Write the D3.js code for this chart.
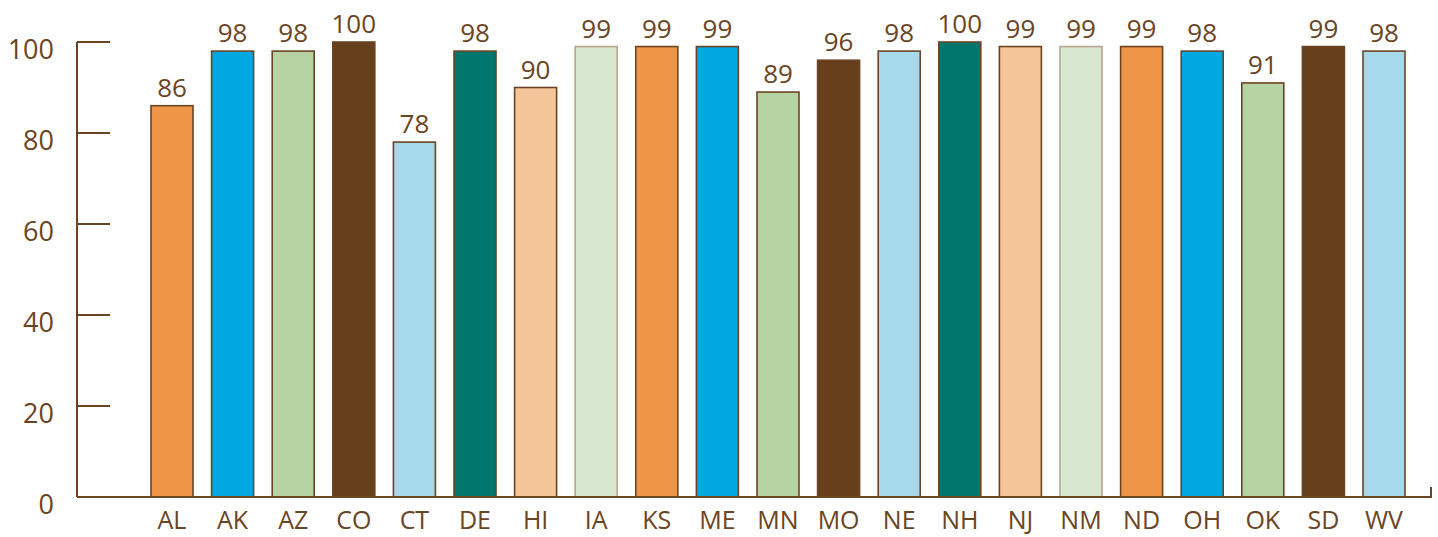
<!DOCTYPE html>
<html>
<head>
<meta charset="utf-8">
<script src="https://cdn.jsdelivr.net/npm/d3@7"></script>
<style>
  html, body { margin: 0; padding: 0; background: #fff; }
  svg { display: block; font-family: "Open Sans", "Noto Sans", sans-serif; }
</style>
</head>
<body>
<svg id="chart" width="1438" height="537"></svg>
<script>
  // Data
  const states = ['AL', 'AK', 'AZ', 'CO', 'CT', 'DE', 'HI', 'IA', 'KS', 'ME', 'MN',
                  'MO', 'NE', 'NH', 'NJ', 'NM', 'ND', 'OH', 'OK', 'SD', 'WV'];
  const values = [86, 98, 98, 100, 78, 98, 90, 99, 99, 99, 89,
                  96, 98, 100, 99, 99, 99, 98, 91, 99, 98];
  const yTicks = [0, 20, 40, 60, 80, 100];

  const palette = ['#ee9548', '#00a8e2', '#b6d3a4', '#683f1d',
                   '#a7d9ec', '#00766d', '#f5c59a', '#d8e7cf'];
  const brown = '#6b4423';

  const svg = d3.select('#chart');

  const x = d3.scaleBand()
    .domain(states)
    .range([141.7, 1414.3])
    .paddingInner(0.307)
    .paddingOuter(0.1535);

  const y = d3.scaleLinear().domain([0, 100]).range([497, 42]);

  const color = d3.scaleOrdinal().domain(d3.range(palette.length)).range(palette);

  const data = states.map((s, i) => ({ state: s, value: values[i], i }));

  // Bars
  svg.append('g').selectAll('rect')
    .data(data)
    .enter().append('rect')
    .attr('x', d => x(d.state))
    .attr('y', d => y(d.value))
    .attr('width', x.bandwidth())
    .attr('height', d => y(0) - y(d.value))
    .attr('fill', d => color(d.i % palette.length))
    .attr('stroke', d => (d.i % palette.length) === 7 ? '#b9a48f' : brown)
    .attr('stroke-width', 1.6);

  // Value labels
  svg.append('g').selectAll('text')
    .data(data)
    .enter().append('text')
    .attr('x', d => x(d.state) + x.bandwidth() / 2)
    .attr('y', d => y(d.value) - 9)
    .attr('text-anchor', 'middle')
    .attr('font-size', 26)
    .attr('fill', brown)
    .text(d => d.value);

  // Y axis
  const yAxis = svg.append('g').attr('transform', 'translate(77,0)');
  yAxis.append('line')
    .attr('y1', y(100)).attr('y2', y(0))
    .attr('stroke', brown).attr('stroke-width', 2);
  yAxis.selectAll('line.tick')
    .data(yTicks)
    .enter().append('line')
    .attr('class', 'tick')
    .attr('x1', 0).attr('x2', 33)
    .attr('y1', d => y(d)).attr('y2', d => y(d))
    .attr('stroke', brown).attr('stroke-width', 2);
  yAxis.selectAll('text')
    .data(yTicks)
    .enter().append('text')
    .attr('x', -23)
    .attr('y', d => y(d) + 16.5)
    .attr('text-anchor', 'end')
    .attr('font-size', 27)
    .attr('fill', brown)
    .text(d => d);

  // X axis
  const xAxis = svg.append('g');
  xAxis.append('path')
    .attr('d', `M77,${y(0)}H1431V${y(0) - 10}`)
    .attr('fill', 'none')
    .attr('stroke', brown).attr('stroke-width', 2);
  xAxis.selectAll('text')
    .data(states)
    .enter().append('text')
    .attr('x', d => x(d) + x.bandwidth() / 2)
    .attr('y', 529)
    .attr('text-anchor', 'middle')
    .attr('font-size', 25)
    .attr('fill', brown)
    .text(d => d);
</script>
</body>
</html>
